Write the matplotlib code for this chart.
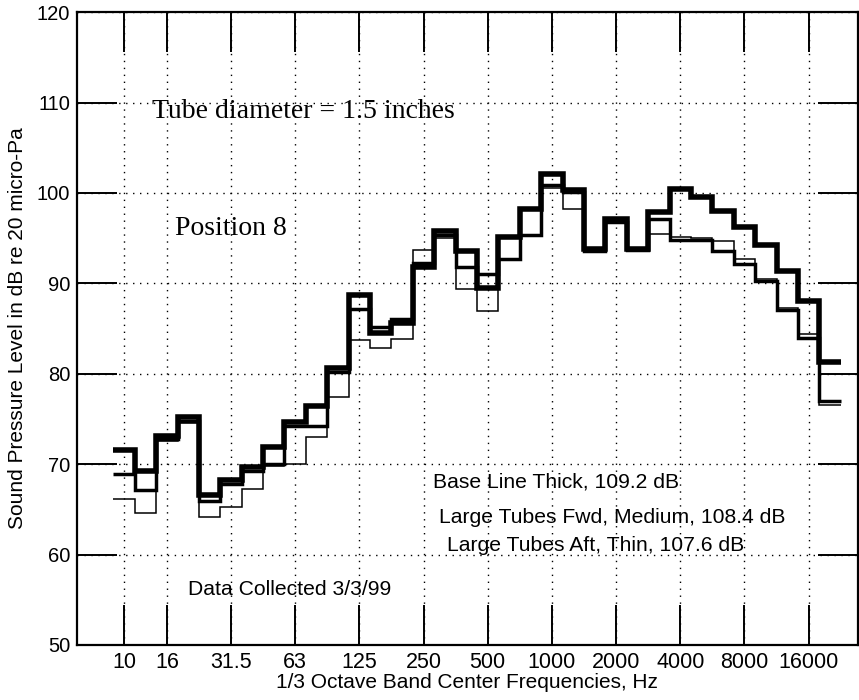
import matplotlib
matplotlib.use("Agg")
import matplotlib.pyplot as plt
import numpy as np

# 1/3 octave bands, 10 Hz .. 20 kHz
bands = ['10', '12.5', '16', '20', '25', '31.5', '40', '50', '63', '80', '100',
         '125', '160', '200', '250', '315', '400', '500', '630', '800', '1000',
         '1250', '1600', '2000', '2500', '3150', '4000', '5000', '6300', '8000',
         '10000', '12500', '16000', '20000']

base_thick = [71.6, 69.2, 73.1, 75.2, 66.6, 68.3, 69.7, 71.9, 74.7, 76.4, 80.6,
              88.7, 84.5, 85.6, 91.8, 95.8, 93.6, 89.5, 95.1, 98.2, 102.1,
              100.3, 93.8, 97.1, 93.8, 97.9, 100.4, 99.6, 98.0, 96.2,
              94.3, 91.4, 88.0, 81.3]
fwd_medium = [68.9, 67.1, 72.8, 74.8, 65.9, 67.8, 69.2, 70.0, 74.2, 74.2, 80.2,
              87.2, 85.2, 86.1, 92.3, 95.4, 91.8, 91.0, 92.7, 95.4, 100.9,
              100.1, 93.6, 96.8, 93.7, 97.1, 94.8, 94.8, 93.6, 92.1,
              90.3, 87.1, 84.0, 77.0]
aft_thin = [66.2, 64.6, 72.6, 74.6, 64.2, 65.3, 67.2, 69.8, 70.0, 73.0, 77.4,
            83.7, 82.9, 83.8, 93.7, 95.0, 89.4, 86.9, 92.6, 95.2, 100.6,
            98.2, 93.5, 96.7, 93.6, 95.5, 95.1, 95.0, 94.7, 92.7,
            90.5, 87.3, 84.4, 76.6]

tick_labels = ['10', '16', '31.5', '63', '125', '250', '500', '1000', '2000',
               '4000', '8000', '16000']
y_ticks = [50, 60, 70, 80, 90, 100, 110, 120]

plt.rcParams['font.family'] = ['Liberation Sans', 'DejaVu Sans']

fig = plt.figure(figsize=(8.59, 7.00), dpi=100)
ax = fig.add_axes([0.0896, 0.0786, 0.909, 0.904])

edges = np.arange(len(bands) + 1) - 0.5
ax.stairs(aft_thin, edges, baseline=None, color='black', lw=1.1, zorder=3)
ax.stairs(fwd_medium, edges, baseline=None, color='black', lw=2.5, zorder=4)
ax.stairs(base_thick, edges, baseline=None, color='black', lw=4.0, zorder=5)

tick_pos = [bands.index(t) for t in tick_labels]
ax.set_xticks(tick_pos)
ax.set_xticklabels(tick_labels, fontsize=15.5)
ax.set_yticks(y_ticks)
ax.set_yticklabels([str(v) for v in y_ticks], fontsize=14.5)
ax.set_xlim(-2.2, 34.3)
ax.set_ylim(50, 120)

ax.grid(True, color='black', linestyle=(0, (1, 4)), lw=1.0)
ax.tick_params(direction='in', length=29, width=1.4, top=True, right=True, pad=5)
for s in ax.spines.values():
    s.set_linewidth(1.6)

ax.set_xlabel('1/3 Octave Band Center Frequencies, Hz', fontsize=15, labelpad=0)
ax.set_ylabel('Sound Pressure Level in dB re 20 micro-Pa', fontsize=15, labelpad=7)

serif = ['Liberation Serif', 'DejaVu Serif']
ax.text(1.31, 108.3, 'Tube diameter = 1.5 inches', family=serif, fontsize=20)
ax.text(2.38, 95.35, 'Position 8', family=serif, fontsize=20)
ax.text(14.44, 67.37, 'Base Line Thick, 109.2 dB', fontsize=15.2)
ax.text(14.72, 63.5, 'Large Tubes Fwd, Medium, 108.4 dB', fontsize=15.2)
ax.text(15.09, 60.4, 'Large Tubes Aft, Thin, 107.6 dB', fontsize=15.2)
ax.text(2.99, 55.5, 'Data Collected 3/3/99', fontsize=15.2)

fig.savefig('out.png', dpi=100, facecolor='white')
